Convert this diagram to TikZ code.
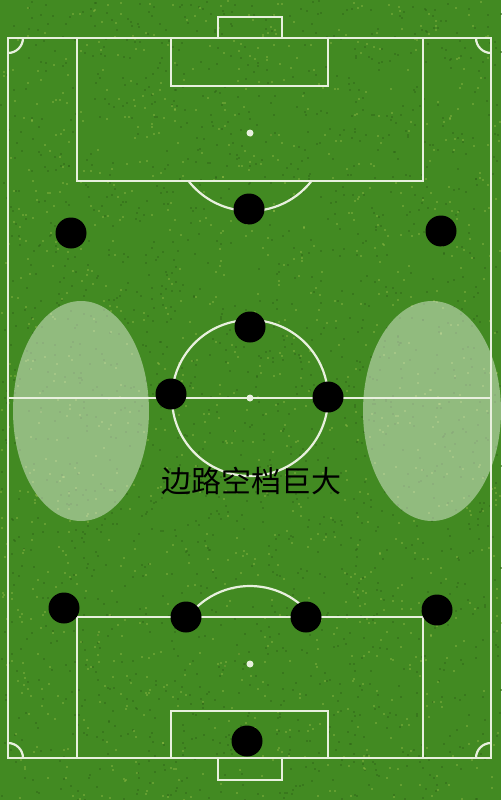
\documentclass[tikz,border=0pt]{standalone}
\usepackage{fontspec}
\newfontfamily\cjk{Noto Sans CJK SC}
\definecolor{grass}{RGB}{66,138,34}
\definecolor{chalk}{RGB}{232,240,222}
\begin{document}
\begin{tikzpicture}[x=1pt, y=-1pt, line width=2.2pt]
	\tikzset{player/.style={circle, fill=black, minimum size=31pt, inner sep=0pt},
		gap/.style={fill=white, fill opacity=0.42},
		line/.style={draw=chalk}}
	%grass
	\fill[grass] (0,0) rectangle (501,800);
	\useasboundingbox (0,0) rectangle (501,800);
	\pgfmathsetseed{7}
	\foreach \i in {1,...,1800}
	\fill[grass!75!black, opacity=0.5] (rnd*501,rnd*800) rectangle ++(2,2);
	\foreach \i in {1,...,1200}
	\fill[grass!70!yellow!80!white, opacity=0.4] (rnd*501,rnd*800) rectangle ++(2,2);
	%open flanks
	\begin{scope}
		\clip (0,0) rectangle (501,800);
		\fill[gap] (81,411) ellipse[x radius=68, y radius=110];
		\fill[gap] (432,411) ellipse[x radius=69, y radius=110];
	\end{scope}
	%outline
	\draw[line] (8,38) rectangle (491,758);
	\draw[line] (8,398) -- (491,398);
	\draw[line] (250,398) circle[radius=78];
	\fill[chalk] (250,398) circle[radius=3.5];
	%corners
	\draw[line] (23,38) arc[start angle=0, end angle=90, radius=15];
	\draw[line] (476,38) arc[start angle=180, end angle=90, radius=15];
	\draw[line] (23,758) arc[start angle=0, end angle=-90, radius=15];
	\draw[line] (476,758) arc[start angle=180, end angle=270, radius=15];
	%top end
	\draw[line] (77,38) rectangle (423,181);
	\draw[line] (171,38) rectangle (328,86);
	\draw[line] (218,38) -- (218,17) -- (282,17) -- (282,38);
	\fill[chalk] (250,133) circle[radius=3.5];
	\draw[line] (250,133) ++(38:78) arc[start angle=38, end angle=142, radius=78];
	%bottom end
	\draw[line] (77,617) rectangle (423,758);
	\draw[line] (171,711) rectangle (328,758);
	\draw[line] (218,758) -- (218,780) -- (282,780) -- (282,758);
	\fill[chalk] (250,664) circle[radius=3.5];
	\draw[line] (250,664) ++(-37:78) arc[start angle=-37, end angle=-143, radius=78];
	%players
	\foreach \n/\x/\y in {st/249/209, lw/71/233, rw/441/231, am/250/327,
		lcm/171/394, rcm/328/397, lb/64/608, lcb/186/617, rcb/306/617,
		rb/437/610, gk/247/741}
	\node[player] (\n) at (\x,\y) {};
	%label
	\node[font=\cjk\fontsize{30}{30}\selectfont, text=black] (note) at (251,481) {边路空档巨大};
\end{tikzpicture}
\end{document}
